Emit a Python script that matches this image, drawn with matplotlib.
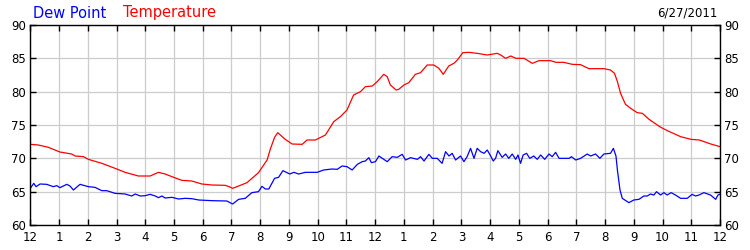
import matplotlib
matplotlib.use("Agg")
import matplotlib.pyplot as plt

# Hours since midnight, 6/27/2011
temp_hours = [0.0, 0.28, 0.63, 1.03, 1.44, 1.56, 1.85, 2.02, 2.49, 2.95, 3.3, 3.76, 4.17, 4.46,
              4.69, 4.93, 5.27, 5.62, 5.97, 6.32, 6.78, 6.92, 7.04, 7.25, 7.54, 7.94, 8.24, 8.35,
              8.5, 8.61, 8.87, 9.11, 9.46, 9.63, 9.92, 10.27, 10.56, 10.79, 11.02, 11.25, 11.49,
              11.66, 11.9, 12.07, 12.3, 12.42, 12.53, 12.73, 12.82, 13.0, 13.17, 13.4, 13.58,
              13.81, 14.04, 14.22, 14.37, 14.56, 14.74, 14.86, 15.05, 15.26, 15.55, 15.9, 16.25,
              16.37, 16.54, 16.72, 16.9, 17.18, 17.47, 17.7, 18.11, 18.29, 18.56, 18.86, 19.15,
              19.44, 19.96, 20.19, 20.33, 20.43, 20.54, 20.71, 20.89, 21.12, 21.3, 21.53, 21.94,
              22.17, 22.63, 22.99, 23.28, 23.68, 24.0]
temp_values = [72.1, 72.0, 71.65, 70.95, 70.65, 70.35, 70.25, 69.85, 69.25, 68.5, 67.9, 67.35, 67.35,
               67.9, 67.65, 67.25, 66.7, 66.6, 66.15, 66.0, 65.95, 65.75, 65.5, 65.85, 66.35, 67.85,
               69.75, 71.35, 73.15, 73.85, 72.85, 72.15, 72.1, 72.75, 72.75, 73.5, 75.5, 76.25,
               77.25, 79.5, 80.0, 80.75, 80.85, 81.5, 82.6, 82.25, 81.0, 80.25, 80.35, 81.0, 81.35,
               82.6, 82.85, 84.0, 84.0, 83.5, 82.6, 83.85, 84.25, 84.75, 85.85, 85.9, 85.75, 85.5,
               85.75, 85.5, 85.0, 85.35, 85.0, 85.0, 84.25, 84.65, 84.65, 84.4, 84.4, 84.1, 84.05,
               83.45, 83.45, 83.25, 82.75, 81.5, 79.75, 78.1, 77.5, 76.85, 76.75, 75.85, 74.65,
               74.15, 73.25, 72.85, 72.75, 72.15, 71.75]

dew_hours = [0.0, 0.12, 0.2, 0.34, 0.57, 0.8, 0.92, 1.03, 1.27, 1.38, 1.5, 1.73, 2.02, 2.25, 2.49,
             2.66, 2.95, 3.3, 3.53, 3.65, 3.83, 4.0, 4.17, 4.35, 4.46, 4.58, 4.69, 4.93, 5.16, 5.39,
             5.62, 5.86, 6.32, 6.84, 7.04, 7.25, 7.48, 7.71, 7.94, 8.06, 8.18, 8.3, 8.5, 8.64, 8.79,
             9.03, 9.17, 9.34, 9.57, 9.98, 10.21, 10.5, 10.68, 10.85, 11.02, 11.2, 11.38, 11.55,
             11.66, 11.78, 11.87, 12.01, 12.13, 12.3, 12.42, 12.59, 12.77, 12.94, 13.06, 13.23,
             13.47, 13.58, 13.7, 13.87, 13.99, 14.16, 14.33, 14.45, 14.57, 14.68, 14.8, 14.97,
             15.09, 15.2, 15.32, 15.44, 15.55, 15.67, 15.79, 15.9, 16.02, 16.11, 16.19, 16.27,
             16.42, 16.54, 16.65, 16.77, 16.89, 16.97, 17.06, 17.15, 17.27, 17.38, 17.52, 17.64,
             17.76, 17.9, 18.05, 18.16, 18.28, 18.4, 18.75, 18.83, 18.98, 19.15, 19.38, 19.5,
             19.67, 19.82, 19.96, 20.19, 20.29, 20.38, 20.43, 20.52, 20.6, 20.78, 20.83, 21.0,
             21.18, 21.35, 21.47, 21.58, 21.7, 21.79, 21.93, 22.05, 22.16, 22.3, 22.45, 22.63,
             22.86, 23.03, 23.15, 23.27, 23.44, 23.67, 23.85, 23.93, 24.0]
dew_values = [65.5, 66.25, 65.75, 66.15, 66.1, 65.75, 65.9, 65.6, 66.1, 65.85, 65.25, 66.1, 65.75,
              65.65, 65.15, 65.15, 64.75, 64.65, 64.35, 64.65, 64.35, 64.4, 64.6, 64.35, 64.1,
              64.35, 64.05, 64.15, 63.9, 64.0, 63.95, 63.75, 63.65, 63.6, 63.15, 63.85, 64.0,
              64.85, 65.0, 65.8, 65.4, 65.4, 67.0, 67.15, 68.15, 67.65, 67.9, 67.65, 67.9, 67.9,
              68.25, 68.4, 68.35, 68.85, 68.75, 68.25, 69.1, 69.5, 69.6, 70.1, 69.35, 69.5, 70.35,
              69.85, 69.5, 70.25, 70.15, 70.6, 69.75, 70.1, 69.85, 70.25, 69.6, 70.6, 70.0, 70.0,
              69.25, 71.0, 70.35, 70.75, 69.75, 70.35, 69.5, 70.25, 71.5, 70.0, 71.5, 71.0, 70.75,
              71.25, 70.35, 69.6, 70.0, 71.15, 70.15, 70.65, 70.0, 70.65, 69.85, 70.5, 69.25,
              70.5, 70.75, 70.0, 70.35, 69.85, 70.5, 69.85, 70.65, 70.25, 70.9, 70.0, 70.0, 70.25,
              69.75, 70.0, 70.65, 70.35, 70.65, 70.0, 70.65, 70.75, 71.5, 70.35, 68.25, 65.25,
              64.0, 63.5, 63.35, 63.75, 63.85, 64.35, 64.35, 64.65, 64.5, 65.0, 64.5, 64.85, 64.5,
              64.85, 64.5, 64.0, 64.0, 64.6, 64.35, 64.5, 64.85, 64.5, 63.85, 64.5, 64.6]

x_tick_labels = ["12", "1", "2", "3", "4", "5", "6", "7", "8", "9", "10", "11",
                 "12", "1", "2", "3", "4", "5", "6", "7", "8", "9", "10", "11", "12"]
y_ticks = [60, 65, 70, 75, 80, 85, 90]
date_label = "6/27/2011"

plt.rcParams['font.family'] = ['DejaVu Sans']

fig = plt.figure(figsize=(7.5, 2.5), dpi=100)
ax = fig.add_axes([30.3 / 750, 25 / 250, (720 - 30.3) / 750, 200 / 250])

ax.plot(dew_hours, dew_values, color="#0000ff", lw=0.9)
ax.plot(temp_hours, temp_values, color="#ff0000", lw=0.9)

ax.set_xlim(0, 24)
ax.set_ylim(60, 90)
ax.set_xticks(range(25))
ax.set_xticklabels(x_tick_labels)
ax.set_yticks(y_ticks)
ax.grid(True, color="#cccccc", lw=0.9)
ax.set_axisbelow(True)
for s in ax.spines.values():
    s.set_color("black")
    s.set_linewidth(1.0)

ax.tick_params(axis="both", direction="in", length=4, width=1, color="black",
               labelsize=8.5, top=True, right=True, labelright=True)
ax.tick_params(axis="x", pad=4)
ax.tick_params(axis="y", pad=3)

fig.text(33 / 750, 1 - 13 / 250, "Dew Point", color="#0000ff", fontsize=10.5, va="center", ha="left")
fig.text(123 / 750, 1 - 13 / 250, "Temperature", color="#ff0000", fontsize=10.5, va="center", ha="left")
fig.text(717 / 750, 1 - 13 / 250, date_label, color="black", fontsize=8.5, va="center", ha="right")

fig.savefig("out.png", dpi=100)
